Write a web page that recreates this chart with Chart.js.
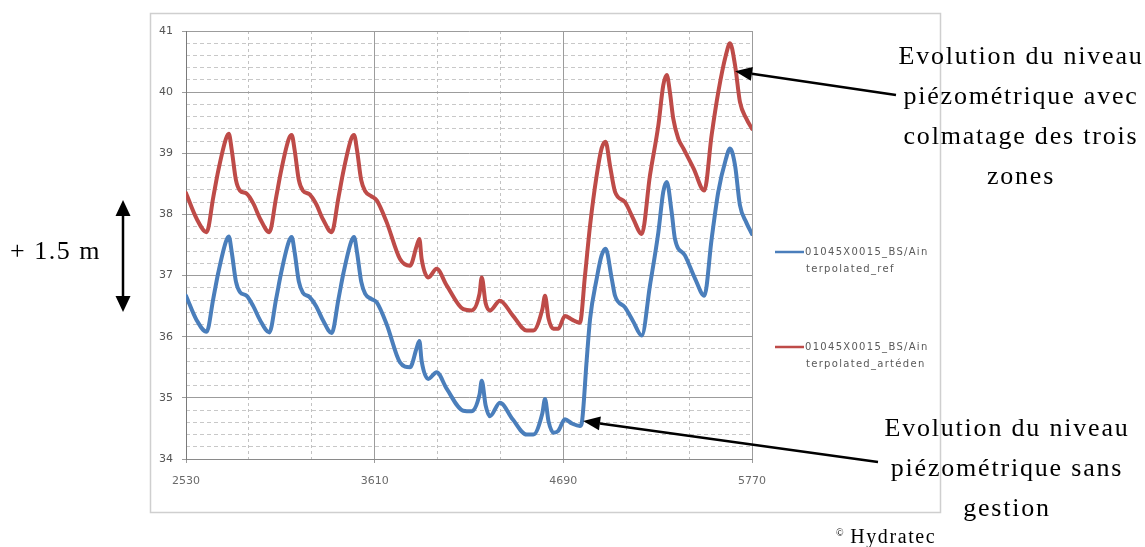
<!DOCTYPE html>
<html>
<head>
<meta charset="utf-8">
<script src="https://cdn.jsdelivr.net/npm/chart.js@4.4.1/dist/chart.umd.min.js"></script>
<style>
  html, body { margin:0; padding:0; background:#fff; overflow:hidden; }
  #wrap { position:relative; width:1145px; height:547px; }
  canvas { position:absolute; left:0; top:0; }
  .ann { position:absolute; font-family:"Liberation Serif","Times New Roman",serif; font-size:26px;
         line-height:40px; color:#000; text-align:center; white-space:nowrap; letter-spacing:1.8px; }
</style>
</head>
<body>
<div id="wrap">
  <canvas id="c" width="1145" height="547"></canvas>
  <div class="ann" style="left:896px;top:36px;width:250px;">Evolution du niveau<br>piézométrique avec<br>colmatage des trois<br>zones</div>
  <div class="ann" style="left:882px;top:408px;width:250px;">Evolution du niveau<br>piézométrique sans<br>gestion</div>
  <div class="ann" style="left:10px;top:231px;text-align:left;letter-spacing:1.5px;">+ 1.5 m</div>
  <div class="ann" style="left:836px;top:516px;text-align:left;font-size:20px;letter-spacing:1.6px;line-height:34px;"><span style="font-size:10px;vertical-align:7px;letter-spacing:0;">©</span> Hydratec</div>
</div>
<script>
// ---- data ----
const xTicks = [2530, 3610, 4690, 5770];
const yTicks = [34, 35, 36, 37, 38, 39, 40, 41];
const seriesLabels = [["01045X0015_BS/Ain", "terpolated_ref"], ["01045X0015_BS/Ain", "terpolated_artéden"]];
const seriesColors = ["#4a7ebb", "#be4b48"];

const refX = [2530, 2591, 2648, 2686, 2715, 2759, 2775, 2792, 2816, 2839, 2877, 2915, 2954, 3007, 3046, 3075, 3119, 3135, 3152, 3176, 3199, 3237, 3275, 3314, 3364, 3403, 3432, 3476, 3492, 3509, 3533, 3556, 3590, 3622, 3679, 3755, 3812, 3851, 3866, 3879, 3917, 3965, 4022, 4117, 4165, 4210, 4223, 4245, 4270, 4327, 4400, 4480, 4518, 4570, 4585, 4605, 4633, 4661, 4699, 4740, 4785, 4795, 4824, 4843, 4881, 4909, 4932, 4967, 4986, 5043, 5090, 5139, 5186, 5234, 5262, 5282, 5310, 5329, 5386, 5444, 5497, 5539, 5577, 5621, 5644, 5673, 5701, 5737, 5770];
const refY = [36.67, 36.27, 36.08, 36.62, 37.05, 37.56, 37.64, 37.38, 36.90, 36.73, 36.67, 36.50, 36.27, 36.07, 36.62, 37.05, 37.56, 37.63, 37.38, 36.90, 36.72, 36.65, 36.50, 36.27, 36.06, 36.62, 37.05, 37.56, 37.63, 37.38, 36.90, 36.70, 36.62, 36.56, 36.20, 35.58, 35.50, 35.82, 35.93, 35.60, 35.31, 35.42, 35.15, 34.79, 34.78, 35.05, 35.28, 34.88, 34.70, 34.92, 34.65, 34.40, 34.40, 34.75, 34.98, 34.62, 34.43, 34.46, 34.65, 34.58, 34.54, 34.58, 35.63, 36.29, 36.95, 37.33, 37.44, 36.95, 36.67, 36.48, 36.25, 36.02, 36.84, 37.71, 38.37, 38.53, 38.04, 37.60, 37.33, 36.95, 36.67, 37.60, 38.37, 38.91, 39.08, 38.80, 38.15, 37.87, 37.68];

const colX = [2530, 2591, 2648, 2686, 2715, 2759, 2775, 2792, 2816, 2839, 2877, 2915, 2954, 3007, 3046, 3075, 3119, 3135, 3152, 3176, 3199, 3237, 3275, 3314, 3364, 3403, 3432, 3476, 3492, 3509, 3533, 3556, 3590, 3622, 3679, 3755, 3812, 3851, 3866, 3879, 3917, 3965, 4022, 4117, 4165, 4210, 4223, 4245, 4270, 4327, 4400, 4480, 4518, 4570, 4585, 4605, 4633, 4661, 4699, 4740, 4785, 4814, 4843, 4881, 4909, 4932, 4957, 4986, 5043, 5090, 5139, 5186, 5234, 5262, 5282, 5300, 5319, 5348, 5377, 5436, 5497, 5539, 5577, 5621, 5644, 5673, 5701, 5737, 5770];
const colY = [38.35, 37.93, 37.71, 38.28, 38.72, 39.24, 39.32, 39.05, 38.56, 38.39, 38.34, 38.18, 37.93, 37.71, 38.28, 38.72, 39.24, 39.30, 39.05, 38.56, 38.39, 38.33, 38.17, 37.92, 37.71, 38.28, 38.72, 39.24, 39.30, 39.05, 38.56, 38.38, 38.30, 38.23, 37.87, 37.27, 37.16, 37.49, 37.60, 37.27, 36.97, 37.11, 36.84, 36.45, 36.43, 36.70, 36.97, 36.55, 36.43, 36.59, 36.35, 36.10, 36.10, 36.45, 36.67, 36.30, 36.13, 36.13, 36.34, 36.28, 36.23, 37.00, 37.82, 38.64, 39.08, 39.19, 38.80, 38.37, 38.20, 37.93, 37.68, 38.64, 39.46, 40.11, 40.28, 40.00, 39.57, 39.24, 39.08, 38.75, 38.39, 39.30, 40.00, 40.61, 40.80, 40.44, 39.84, 39.57, 39.40];

// annotation arrow tips (data coordinates) and their tail points (pixels)
const arrowTips = [[5673, 40.34], [4803, 34.62]];
const arrowTails = [[896, 95], [878, 462]];

// ---- helpers ----
const xMinorStep = 360, yMinorStep = 0.2;
function minorTicks(min, max, step, majors) {
  const out = [];
  const n = Math.round((max - min) / step);
  for (let i = 0; i <= n; i++) {
    const v = +(min + i * step).toFixed(4);
    if (!majors.some(m => Math.abs(m - v) < 1e-6)) out.push({ value: v });
  }
  return out;
}

const tickFont = { family: "'DejaVu Sans', sans-serif", size: 11 };

const framePlugin = {
  id: 'frame',
  beforeDraw(chart) {
    const ctx = chart.ctx;
    ctx.save();
    ctx.fillStyle = '#ffffff';
    ctx.fillRect(0, 0, chart.width, chart.height);
    ctx.strokeStyle = '#cfcfcf';
    ctx.lineWidth = 1.5;
    ctx.strokeRect(150.5, 13.5, 790, 499);
    ctx.restore();
  },
  afterDraw(chart) {
    const ctx = chart.ctx;
    const xs = chart.scales.x, ys = chart.scales.y;
    ctx.save();
    // legend
    const legendY = [252, 347];
    chart.data.datasets.forEach((ds, i) => {
      const y = legendY[i];
      ctx.strokeStyle = ds.borderColor;
      ctx.lineWidth = 2.5;
      ctx.beginPath(); ctx.moveTo(775, y); ctx.lineTo(804, y); ctx.stroke();
      ctx.fillStyle = '#595959';
      ctx.font = "10px 'DejaVu Sans', sans-serif";
      if ('letterSpacing' in ctx) ctx.letterSpacing = '1.3px';
      ctx.textBaseline = 'middle';
      ctx.textAlign = 'left';
      ds.label.forEach((line, j) => ctx.fillText(line, 805 + (j ? 1 : 0), y + j * 17));
      if ('letterSpacing' in ctx) ctx.letterSpacing = '0px';
    });
    // arrows
    ctx.strokeStyle = '#000'; ctx.fillStyle = '#000'; ctx.lineWidth = 2.5;
    arrowTips.forEach((tip, i) => {
      const tx = xs.getPixelForValue(tip[0]), ty = ys.getPixelForValue(tip[1]);
      const [sx, sy] = arrowTails[i];
      const ang = Math.atan2(ty - sy, tx - sx);
      const L = 17, W = 7;
      const bx = tx - L * Math.cos(ang), by = ty - L * Math.sin(ang);
      ctx.beginPath(); ctx.moveTo(sx, sy); ctx.lineTo(bx, by); ctx.stroke();
      ctx.beginPath();
      ctx.moveTo(tx, ty);
      ctx.lineTo(bx + W * Math.sin(ang), by - W * Math.cos(ang));
      ctx.lineTo(bx - W * Math.sin(ang), by + W * Math.cos(ang));
      ctx.closePath(); ctx.fill();
    });
    // double arrow (+1.5 m)
    const ax = 123, top = 200, bot = 312;
    ctx.beginPath(); ctx.moveTo(ax, top + 14); ctx.lineTo(ax, bot - 14); ctx.stroke();
    ctx.beginPath(); ctx.moveTo(ax, top); ctx.lineTo(ax - 7.5, top + 16); ctx.lineTo(ax + 7.5, top + 16); ctx.closePath(); ctx.fill();
    ctx.beginPath(); ctx.moveTo(ax, bot); ctx.lineTo(ax - 7.5, bot - 16); ctx.lineTo(ax + 7.5, bot - 16); ctx.closePath(); ctx.fill();
    ctx.restore();
  }
};

new Chart(document.getElementById('c'), {
  type: 'line',
  data: {
    datasets: [
      { label: seriesLabels[0], data: refX.map((x, i) => ({ x, y: refY[i] })), borderColor: seriesColors[0] },
      { label: seriesLabels[1], data: colX.map((x, i) => ({ x, y: colY[i] })), borderColor: seriesColors[1] }
    ].map(d => Object.assign(d, { borderWidth: 4, pointRadius: 0, fill: false, cubicInterpolationMode: 'monotone', borderJoinStyle: 'round', borderCapStyle: 'round' }))
  },
  options: {
    responsive: false, animation: false, devicePixelRatio: 1,
    layout: { padding: { left: 150, right: 393, top: 31, bottom: 48 } },
    plugins: { legend: { display: false }, tooltip: { enabled: false } },
    scales: {
      x: {
        type: 'linear', position: 'bottom', min: xTicks[0], max: xTicks[xTicks.length - 1],
        afterBuildTicks: s => { s.ticks = xTicks.map(v => ({ value: v })); },
        afterFit: s => { s.height = 40; },
        ticks: { font: tickFont, color: '#6a6a6a', padding: 12, maxRotation: 0, autoSkip: false, callback: v => String(v) },
        grid: { color: '#9c9c9c', lineWidth: 1, tickLength: 4, drawTicks: true },
        border: { display: true, color: '#8a8a8a' }
      },
      xMinor: {
        type: 'linear', position: 'bottom', min: xTicks[0], max: xTicks[xTicks.length - 1], z: -1,
        afterBuildTicks: s => { s.ticks = minorTicks(xTicks[0], xTicks[xTicks.length - 1], xMinorStep, xTicks); },
        afterFit: s => { s.height = 0; },
        ticks: { display: false },
        grid: { color: '#c2c2c2', lineWidth: 1, drawTicks: false },
        border: { display: false, dash: [3, 3] }
      },
      y: {
        type: 'linear', position: 'left', min: yTicks[0], max: yTicks[yTicks.length - 1],
        afterBuildTicks: s => { s.ticks = yTicks.map(v => ({ value: v })); },
        afterFit: s => { s.width = 36; },
        ticks: { font: tickFont, color: '#555555', padding: 9, callback: v => String(v) },
        grid: { color: '#9c9c9c', lineWidth: 1, tickLength: 4, drawTicks: true },
        border: { display: true, color: '#7a7a7a' }
      },
      yMinor: {
        type: 'linear', position: 'left', min: yTicks[0], max: yTicks[yTicks.length - 1], z: -1,
        afterBuildTicks: s => { s.ticks = minorTicks(yTicks[0], yTicks[yTicks.length - 1], yMinorStep, yTicks); },
        afterFit: s => { s.width = 0; },
        ticks: { display: false },
        grid: { color: '#c8c8c8', lineWidth: 1, drawTicks: false },
        border: { display: false, dash: [4, 3] }
      }
    }
  },
  plugins: [framePlugin]
});
</script>
</body>
</html>
